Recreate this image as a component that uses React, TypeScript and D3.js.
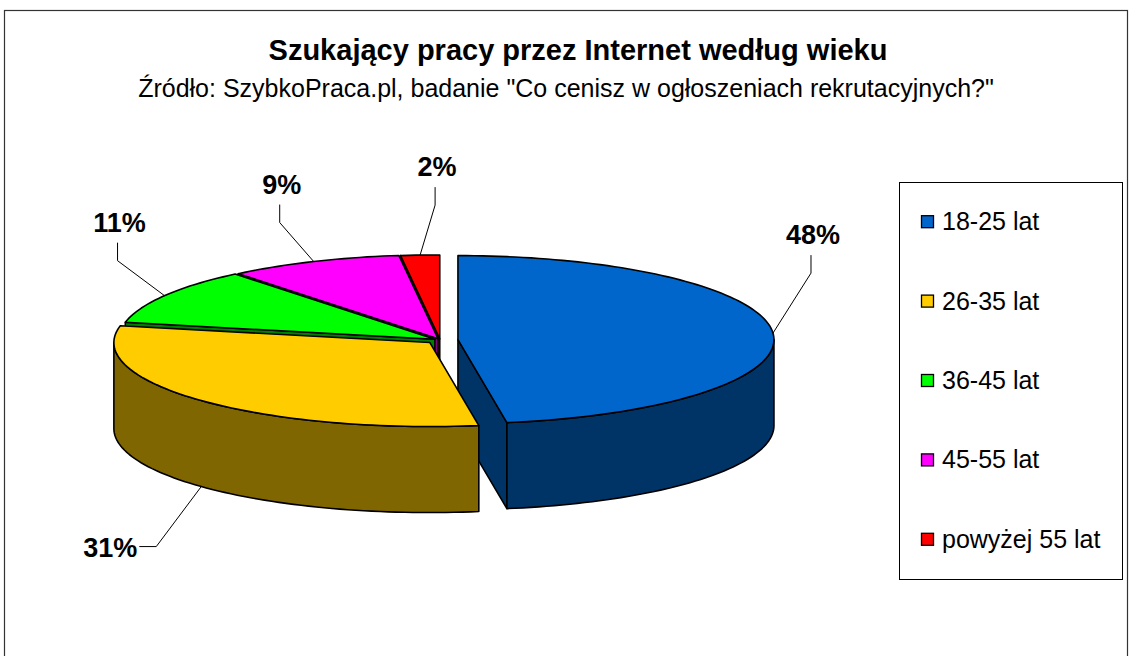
import React from "react";
import * as d3 from "d3";

// ---- data ----
const categories = ["18-25 lat", "26-35 lat", "36-45 lat", "45-55 lat", "powyżej 55 lat"];
const values = [48, 31, 11, 9, 2];
const topColors = ["#0066CC", "#FFCC00", "#00FF00", "#FF00FF", "#FF0000"];
const sideColors = ["#003366", "#806600", "#008000", "#800080", "#800000"];
const title = "Szukający pracy przez Internet według wieku";
const subtitle = "Źródło: SzybkoPraca.pl, badanie \"Co cenisz w ogłoszeniach rekrutacyjnych?\"";

// ---- layout ----
const W = 1131;
const H = 656;
const CX = 440;
const CY = 340;
const RX = 316;
const RY = 84;
const DEPTH = 86;
const EXPLODE = [18, 14, 6, 5, 4];
// label position (center x, baseline y) relative to leader anchor
const LABEL_OFFSET: [number, number][] = [
  [40, -89],
  [-91, 70],
  [-45, -64],
  [-32, -68],
  [17, -79],
];
const FONT = "Liberation Sans, Arial, Helvetica, sans-serif";

const LEG = { x: 899, y: 182, w: 223, h: 397 };

export default function App() {
  const arcs = d3
    .pie<number>()
    .sort(null)
    .value((d) => d)
    .startAngle(0)
    .endAngle(2 * Math.PI)(values);

  const line = d3.line<[number, number]>();

  const slices = arcs.map((p, i) => {
    const a0 = p.startAngle;
    const a1 = p.endAngle;
    const mid = (a0 + a1) / 2;
    const ox = EXPLODE[i] * Math.sin(mid);
    const oy = -EXPLODE[i] * Math.cos(mid) * (RY / RX);
    const pt = (a: number, z: number): [number, number] => [
      CX + ox + RX * Math.sin(a),
      CY + oy - RY * Math.cos(a) + z,
    ];
    const c0: [number, number] = [CX + ox, CY + oy];
    const c1: [number, number] = [CX + ox, CY + oy + DEPTH];
    const samples = (s: number, e: number, z: number) => {
      const n = Math.max(2, Math.ceil(((e - s) / (2 * Math.PI)) * 240));
      return d3.range(n + 1).map((k) => pt(s + ((e - s) * k) / n, z));
    };
    const top = line([c0, ...samples(a0, a1, 0)])! + "Z";
    const faces: string[] = [];
    if (Math.sin(a0) < -1e-6) {
      faces.push(line([c0, pt(a0, 0), pt(a0, DEPTH), c1])! + "Z");
    }
    if (Math.sin(a1) > 1e-6) {
      faces.push(line([c0, pt(a1, 0), pt(a1, DEPTH), c1])! + "Z");
    }
    const s = Math.max(a0, Math.PI / 2);
    const e = Math.min(a1, (3 * Math.PI) / 2);
    if (s < e) {
      const upper = samples(s, e, 0);
      const lower = samples(s, e, DEPTH).reverse();
      faces.push(line([...upper, ...lower])! + "Z");
    }
    const front = -Math.cos(mid) > 0;
    const anchor = pt(mid, front ? DEPTH : 0);
    const lx = anchor[0] + LABEL_OFFSET[i][0];
    const ly = anchor[1] + LABEL_OFFSET[i][1];
    let leader: [number, number][];
    if (ly > anchor[1]) {
      const right = lx + 29;
      leader = [
        [right, ly - 10],
        [right + 17, ly - 10],
        anchor,
      ];
    } else {
      leader = [
        [lx - 2, ly + 11],
        [lx - 2, ly + 29],
        anchor,
      ];
    }
    return {
      i,
      depthKey: -Math.cos(mid),
      top,
      faces,
      label: `${values[i]}%`,
      lx,
      ly,
      leader: line(leader)!,
    };
  });

  const order = [...slices].sort((a, b) => a.depthKey - b.depthKey);
  const itemH = LEG.h / categories.length;

  return (
    <div style={{ position: "absolute", left: 0, top: 0 }}>
      <svg width={W} height={H} style={{ display: "block", background: "#fff" }}>
        <rect x={4.5} y={10.5} width={1123} height={700} fill="#fff" stroke="#333" strokeWidth={1.2} />
        <text x={578} y={60} textAnchor="middle" fontFamily={FONT} fontWeight="bold" fontSize={29}>
          {title}
        </text>
        <text x={566} y={97} textAnchor="middle" fontFamily={FONT} fontSize={25}>
          {subtitle}
        </text>
        {order.map((s) => (
          <g key={s.i}>
            {s.faces.map((f, k) => (
              <path key={k} d={f} fill={sideColors[s.i]} stroke="#000" strokeWidth={1.6} strokeLinejoin="round" />
            ))}
            <path d={s.top} fill={topColors[s.i]} stroke="#000" strokeWidth={1.6} strokeLinejoin="round" />
          </g>
        ))}
        {slices.map((s) => (
          <g key={"l" + s.i}>
            <path d={s.leader} fill="none" stroke="#000" strokeWidth={1} />
            <text x={s.lx} y={s.ly} textAnchor="middle" fontFamily={FONT} fontWeight="bold" fontSize={27}>
              {s.label}
            </text>
          </g>
        ))}
        <rect x={LEG.x + 0.5} y={LEG.y + 0.5} width={LEG.w} height={LEG.h} fill="#fff" stroke="#000" strokeWidth={1} />
        {categories.map((c, i) => {
          const cy = LEG.y + itemH * (i + 0.5);
          return (
            <g key={c}>
              <rect x={921.5} y={cy - 6} width={12} height={12} fill={topColors[i]} stroke="#000" strokeWidth={1.3} />
              <text x={942} y={cy + 8.5} fontFamily={FONT} fontSize={25}>
                {c}
              </text>
            </g>
          );
        })}
      </svg>
    </div>
  );
}
